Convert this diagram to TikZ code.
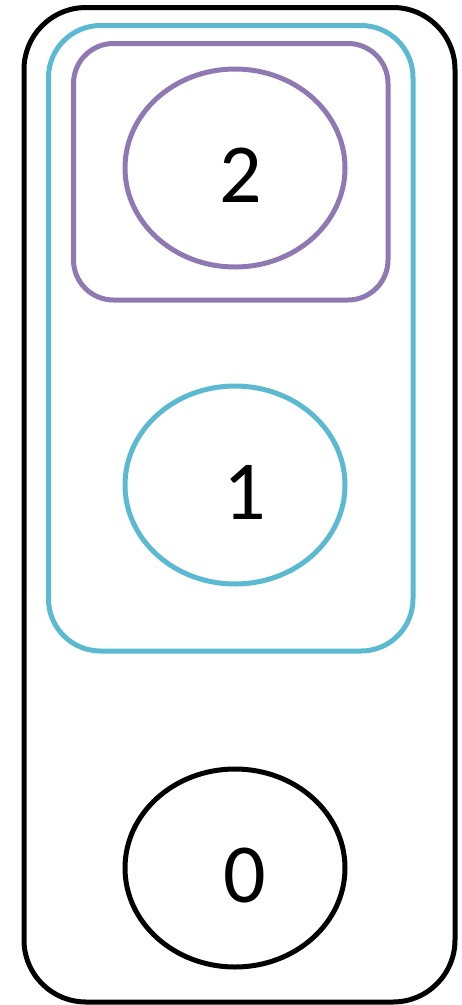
\documentclass[tikz,border=0pt]{standalone}
\usepackage{fontspec}
\setmainfont{Carlito}
\definecolor{cyanc}{HTML}{5BBAD2}
\definecolor{purp}{HTML}{8F79B3}
\tikzset{
  box/.style={line width=5pt},
  lab/.style={font=\fontsize{84}{84}\selectfont, inner sep=0pt},
}
\begin{document}
\begin{tikzpicture}[x=1pt,y=-1pt]
\useasboundingbox (0,0) rectangle (461,1005);
\draw[box, rounded corners=62pt] (24,7.5) rectangle (455,1002);
\draw[box, cyanc, rounded corners=52pt] (48.5,25.5) rectangle (413,651);
\draw[box, purp, rounded corners=40pt] (73.5,43.5) rectangle (388,300);
\draw[box, purp] (235,168) ellipse [x radius=110, y radius=99];
\draw[box, cyanc] (235,485) ellipse [x radius=110, y radius=99];
\draw[box] (235,868) ellipse [x radius=110, y radius=99];
\node[lab] (n2) at (241,175) {2};
\node[lab] (n1) at (245,492) {1};
\node[lab] (n0) at (245,876) {0};
\end{tikzpicture}
\end{document}
